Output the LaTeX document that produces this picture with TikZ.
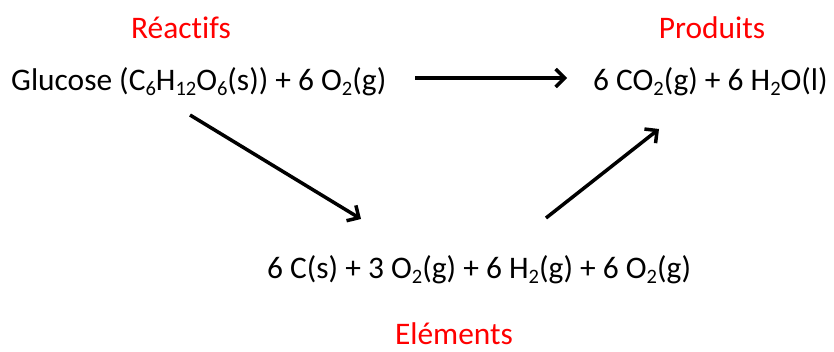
\documentclass[tikz,border=0pt]{standalone}
\usepackage{fontspec}
\setmainfont[Ligatures=NoCommon]{Carlito}
\usetikzlibrary{arrows.meta}
\newcommand\chemsub[1]{\raisebox{-0.3ex}{\fontsize{20.5}{22}\selectfont #1}}
\begin{document}
\begin{tikzpicture}[x=1pt,y=-1pt,
  chem/.style={inner sep=0pt, font=\fontsize{31.4}{36}\selectfont},
  lab/.style={inner sep=0pt, text=red, anchor=base, font=\fontsize{31.4}{36}\selectfont},
  arr/.style={line width=3.5pt, -{Straight Barb[length=9pt,width=18pt,line width=3.5pt]}}]
\useasboundingbox (0,0) rectangle (834,352);
\node[lab] (reac) at (181,39) {Réactifs};
\node[lab] (prodl) at (712,39) {Produits};
\node[chem, anchor=base west] (glu) at (11,91) {Glucose (C\chemsub{6}H\chemsub{12}O\chemsub{6}(s)) + 6 O\chemsub{2}(g)};
\node[chem, anchor=base west] (prod) at (593,91) {6 CO\chemsub{2}(g) + 6 H\chemsub{2}O(l)};
\node[chem, anchor=base west] (elem) at (267,279) {6 C(s) + 3 O\chemsub{2}(g) + 6 H\chemsub{2}(g) + 6 O\chemsub{2}(g)};
\node[lab] (eleml) at (454,344) {Eléments};
\coordinate (t1) at (415,78);
\coordinate (t2) at (567,78);
\coordinate (a1) at (190,115);
\coordinate (a2) at (361,219);
\coordinate (b1) at (546,218);
\coordinate (b2) at (659,129);
\draw[arr] (t1) -- (t2);
\draw[arr] (a1) -- (a2);
\draw[arr] (b1) -- (b2);
\end{tikzpicture}
\end{document}
